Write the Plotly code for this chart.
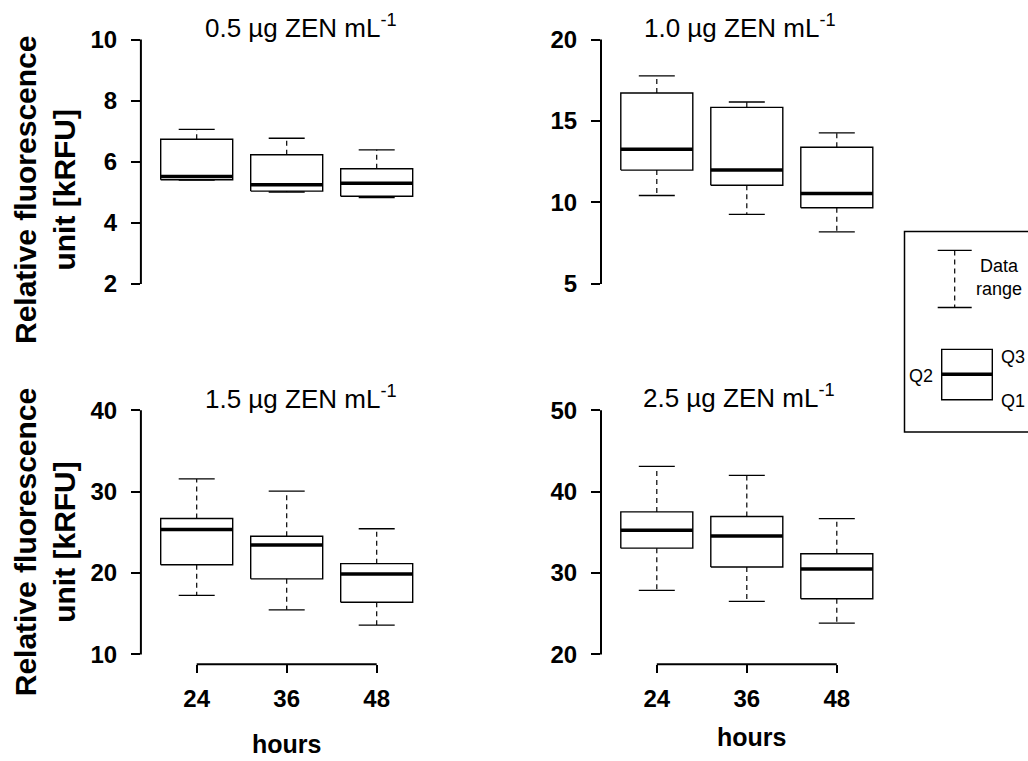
import plotly.graph_objects as go

# ---------------- data ----------------
hours = ["24", "36", "48"]
positions = [1, 2, 3]

titles = ["0.5 µg ZEN mL<sup>-1</sup>", "1.0 µg ZEN mL<sup>-1</sup>",
          "1.5 µg ZEN mL<sup>-1</sup>", "2.5 µg ZEN mL<sup>-1</sup>"]

# 0.5 µg/mL
c05_upper = [7.06, 6.77, 6.39]
c05_q3 = [6.74, 6.23, 5.77]
c05_med = [5.52, 5.25, 5.30]
c05_q1 = [5.41, 5.04, 4.87]
c05_lower = [5.40, 5.01, 4.83]
# 1.0 µg/mL
c10_upper = [17.77, 16.17, 14.28]
c10_q3 = [16.72, 15.84, 13.39]
c10_med = [13.27, 11.99, 10.55]
c10_q1 = [11.99, 11.06, 9.68]
c10_lower = [10.43, 9.27, 8.20]
# 1.5 µg/mL
c15_upper = [31.57, 30.07, 25.45]
c15_q3 = [26.70, 24.52, 21.16]
c15_med = [25.37, 23.46, 19.90]
c15_q1 = [21.03, 19.29, 16.41]
c15_lower = [17.26, 15.48, 13.61]
# 2.5 µg/mL
c25_upper = [43.11, 42.01, 36.70]
c25_q3 = [37.52, 36.95, 32.37]
c25_med = [35.25, 34.56, 30.50]
c25_q1 = [33.06, 30.75, 26.85]
c25_lower = [27.87, 26.53, 23.85]

y_limits = [(2, 10), (5, 20), (10, 40), (20, 50)]
y_ticks = [[2, 4, 6, 8, 10], [5, 10, 15, 20], [10, 20, 30, 40], [20, 30, 40, 50]]

panels = [
    (c05_lower, c05_q1, c05_med, c05_q3, c05_upper),
    (c10_lower, c10_q1, c10_med, c10_q3, c10_upper),
    (c15_lower, c15_q1, c15_med, c15_q3, c15_upper),
    (c25_lower, c25_q1, c25_med, c25_q3, c25_upper),
]

# ---------------- layout geometry ----------------
W, H = 1028, 761
FONT = "Arial, Liberation Sans, sans-serif"


def px_x(p):
    return p / W


def px_y(p):
    return 1 - p / H


x_domains = [(140.9, 432.5), (601.0, 892.6), (140.9, 432.5), (601.0, 892.6)]
y_domains = [(26.1, 292.8), (26.1, 292.8), (400.8, 667.2), (400.8, 667.2)]

BOX_HALF = 0.4
CAP_HALF = 0.2

fig = go.Figure()
shapes = []
annotations = []

for i, (lo, q1, med, q3, up) in enumerate(panels):
    xa = "x" if i == 0 else f"x{i+1}"
    ya = "y" if i == 0 else f"y{i+1}"
    bx, by, mx, my, wx, wy, cx, cy = [], [], [], [], [], [], [], []
    for k, p in enumerate(positions):
        bx += [p - BOX_HALF, p + BOX_HALF, p + BOX_HALF, p - BOX_HALF, p - BOX_HALF, None]
        by += [q1[k], q1[k], q3[k], q3[k], q1[k], None]
        mx += [p - BOX_HALF, p + BOX_HALF, None]
        my += [med[k], med[k], None]
        wx += [p, p, None, p, p, None]
        wy += [q3[k], up[k], None, q1[k], lo[k], None]
        cx += [p - CAP_HALF, p + CAP_HALF, None, p - CAP_HALF, p + CAP_HALF, None]
        cy += [up[k], up[k], None, lo[k], lo[k], None]
    common = dict(xaxis=xa, yaxis=ya, mode="lines", showlegend=False, hoverinfo="skip")
    fig.add_trace(go.Scatter(x=wx, y=wy, line=dict(color="black", width=1.2, dash="5px,4px"), **common))
    fig.add_trace(go.Scatter(x=cx, y=cy, line=dict(color="black", width=1.3), **common))
    fig.add_trace(go.Scatter(x=bx, y=by, line=dict(color="black", width=1.4), **common))
    fig.add_trace(go.Scatter(x=mx, y=my, line=dict(color="black", width=3.5), **common))

    ylo, yhi = y_limits[i]
    pad = 0.04 * (yhi - ylo)
    xd = x_domains[i]
    yd = y_domains[i]
    bottom = i >= 2
    fig.update_layout(**{
        ("xaxis" if i == 0 else f"xaxis{i+1}"): dict(
            domain=[px_x(xd[0]), px_x(xd[1])], anchor=ya,
            range=[0.38, 3.62], showgrid=False, zeroline=False, showline=False,
            tickvals=positions, ticktext=hours,
            ticks="outside" if bottom else "", ticklen=8, tickwidth=2, tickcolor="black",
            showticklabels=bottom, ticklabelstandoff=5,
            tickfont=dict(family=FONT, size=24, color="black", weight="bold"),
        ),
        ("yaxis" if i == 0 else f"yaxis{i+1}"): dict(
            domain=[px_y(yd[1]), px_y(yd[0])], anchor=xa,
            range=[ylo - pad, yhi + pad], showgrid=False, zeroline=False, showline=False,
            tickvals=y_ticks[i], ticks="outside", ticklen=9, tickwidth=2, tickcolor="black",
            ticklabelstandoff=9,
            tickfont=dict(family=FONT, size=24, color="black", weight="bold"),
        ),
    })
    # axis lines spanning the tick range only (R style)
    shapes.append(dict(type="line", xref=f"{xa} domain", yref=ya, x0=0, x1=0, y0=ylo, y1=yhi,
                       line=dict(color="black", width=2)))
    if bottom:
        shapes.append(dict(type="line", xref=xa, yref=f"{ya} domain", x0=positions[0], x1=positions[-1],
                           y0=0, y1=0, line=dict(color="black", width=2)))

# panel titles
title_pos = [(301, 23), (740, 23), (301, 398), (739, 397)]
for t, (tx, ty) in zip(titles, title_pos):
    annotations.append(dict(text=t, x=px_x(tx), y=px_y(ty), xref="paper", yref="paper",
                            xanchor="center", yanchor="middle", showarrow=False,
                            font=dict(family=FONT, size=26, color="black")))

# y-axis titles
for ty in (188, 544):
    annotations.append(dict(text="Relative fluorescence<br>unit [kRFU]", x=px_x(45), y=px_y(ty),
                            xref="paper", yref="paper", xanchor="center", yanchor="middle",
                            textangle=-90, showarrow=False,
                            font=dict(family=FONT, size=30, color="black", weight="bold")))

# x-axis titles
for hx, hy in ((286, 748), (751, 741)):
    annotations.append(dict(text="hours", x=px_x(hx), y=px_y(hy), xref="paper", yref="paper",
                            xanchor="center", yanchor="middle", showarrow=False,
                            font=dict(family=FONT, size=25, color="black", weight="bold")))

# explanatory key
shapes.append(dict(type="rect", xref="paper", yref="paper", x0=px_x(904.5), x1=px_x(1040),
                   y0=px_y(432.5), y1=px_y(230), line=dict(color="black", width=1.5)))
shapes.append(dict(type="line", xref="paper", yref="paper", x0=px_x(954.7), x1=px_x(954.7),
                   y0=px_y(249), y1=px_y(306.7), line=dict(color="black", width=1.2, dash="5px,4px")))
for yy in (249, 306.7):
    shapes.append(dict(type="line", xref="paper", yref="paper", x0=px_x(937.7), x1=px_x(971.7),
                       y0=px_y(yy), y1=px_y(yy), line=dict(color="black", width=1.3)))
shapes.append(dict(type="rect", xref="paper", yref="paper", x0=px_x(941.7), x1=px_x(992.3),
                   y0=px_y(400), y1=px_y(349), line=dict(color="black", width=1.4)))
shapes.append(dict(type="line", xref="paper", yref="paper", x0=px_x(941.7), x1=px_x(992.3),
                   y0=px_y(374.3), y1=px_y(374.3), line=dict(color="black", width=3.5)))
key_texts = [("Data<br>range", 999, 276.5), ("Q3", 1013, 357), ("Q2", 921, 376), ("Q1", 1013, 401.5)]
for txt, kx, ky in key_texts:
    annotations.append(dict(text=txt, x=px_x(kx), y=px_y(ky), xref="paper", yref="paper",
                            xanchor="center", yanchor="middle", showarrow=False,
                            font=dict(family=FONT, size=18, color="black")))

fig.update_layout(
    width=W, height=H, margin=dict(l=0, r=0, t=0, b=0),
    paper_bgcolor="white", plot_bgcolor="white",
    shapes=shapes, annotations=annotations, showlegend=False,
)

fig.write_html("out.html", config={"displayModeBar": False},
               post_script="document.body.style.margin='0';")
